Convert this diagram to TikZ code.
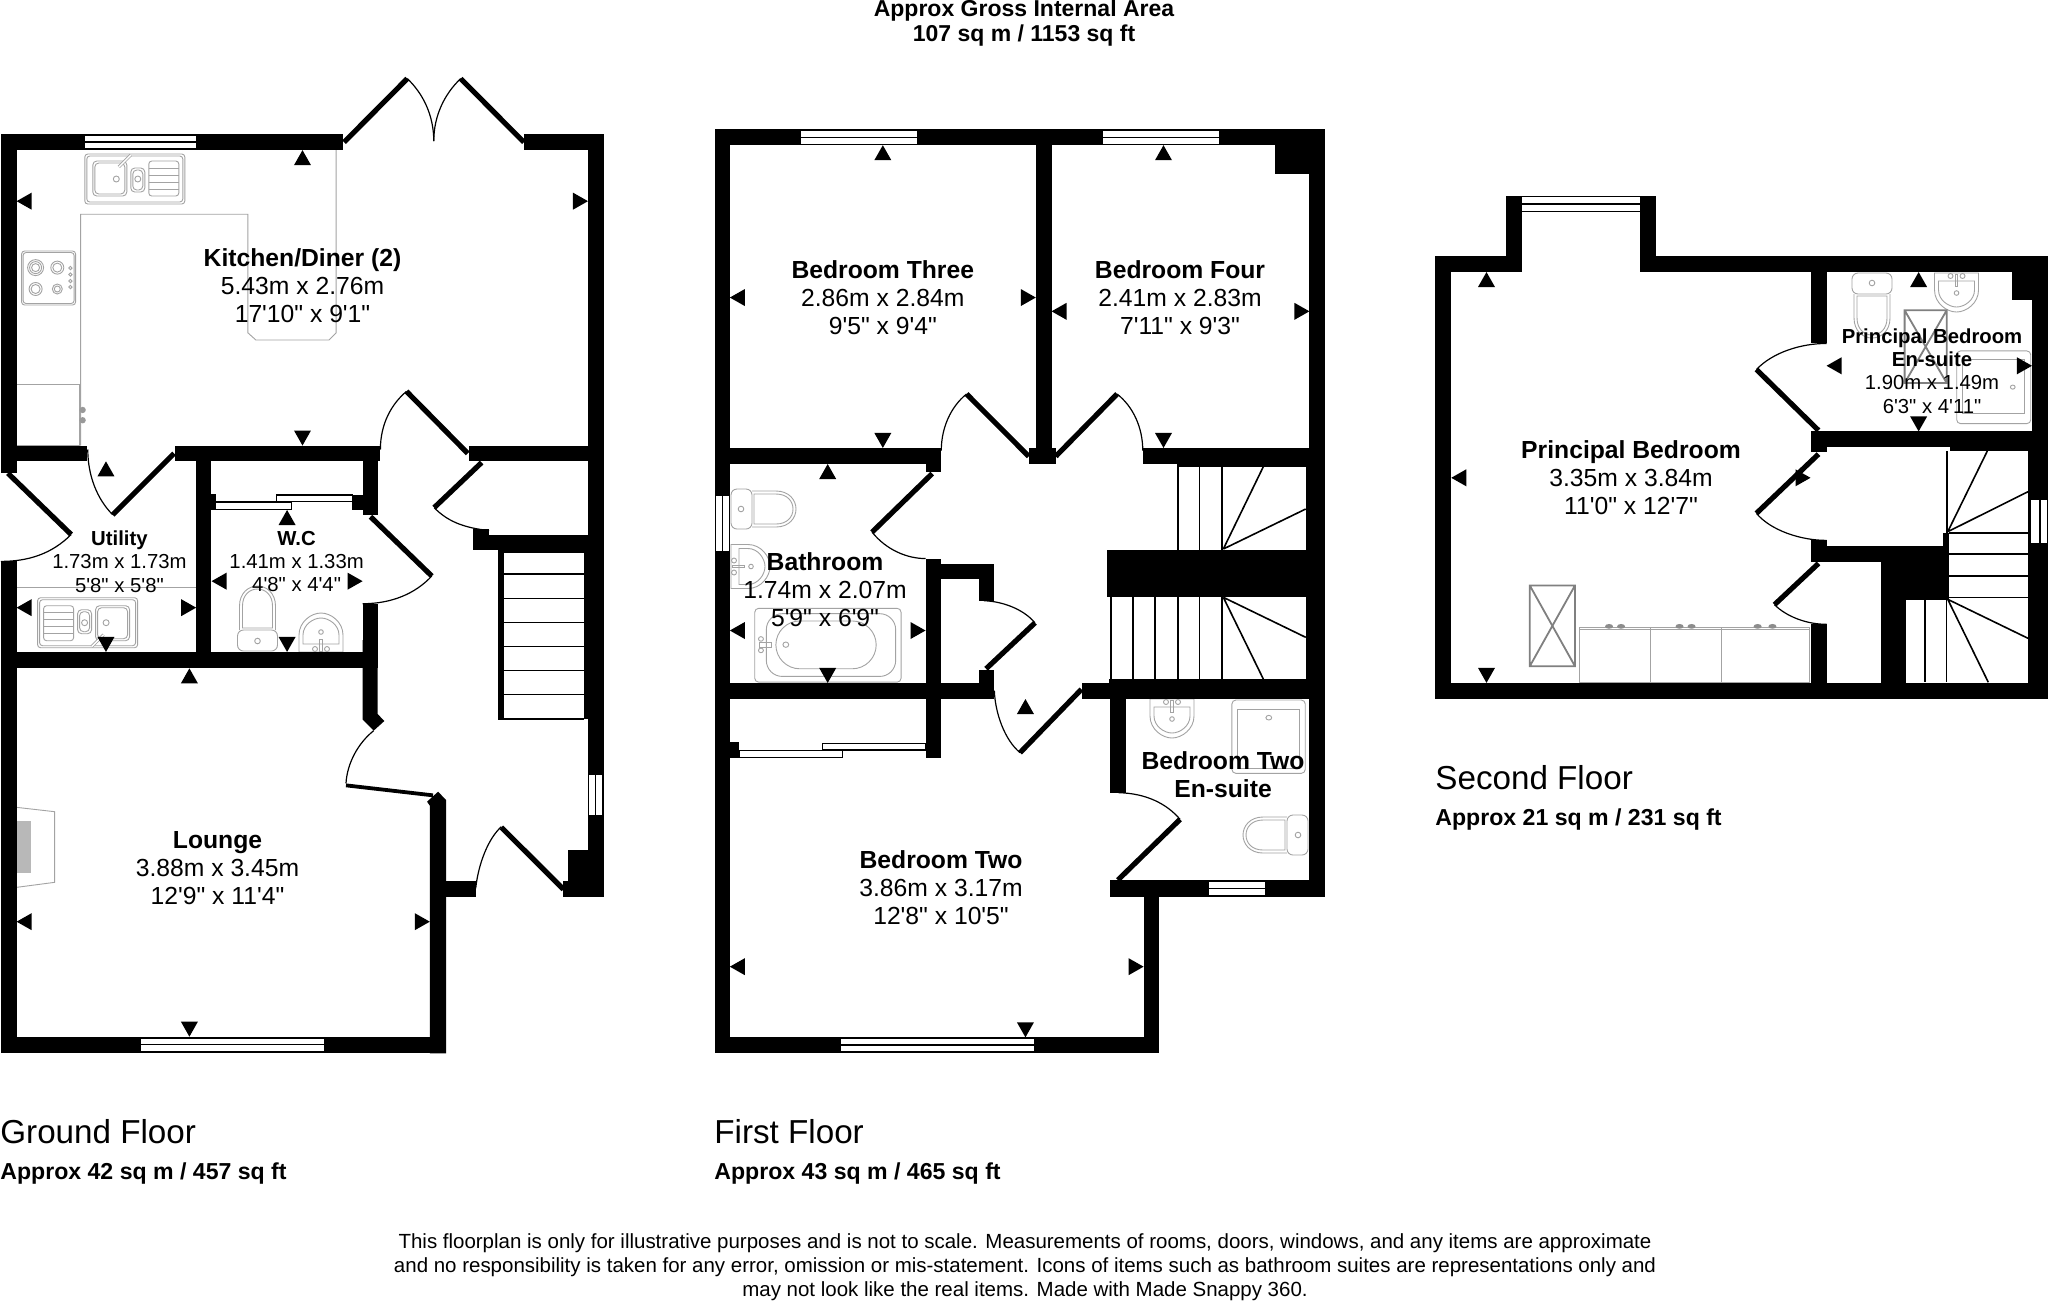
\documentclass[tikz,border=0pt]{standalone}
\usepackage{fontspec}
\newfontfamily\lib{Liberation Sans}
\newcommand\wl[4]{\fill[wall] (#1,#2) rectangle (#3,#4);}
\newcommand\wbar[4]{\fill[white] (#1,#2) rectangle (#3,#4);}
\newcommand\TU[2]{\fill (#1,#2) -- ++({-8.5*\zx},{15*\zy}) -- ++({17*\zx},0) -- cycle;}
\newcommand\TD[2]{\fill (#1,#2) -- ++({-8.5*\zx},{-15*\zy}) -- ++({17*\zx},0) -- cycle;}
\newcommand\TL[2]{\fill (#1,#2) -- ++({15*\zx},{-8.5*\zy}) -- ++(0,{17*\zy}) -- cycle;}
\newcommand\TR[2]{\fill (#1,#2) -- ++({-15*\zx},{-8.5*\zy}) -- ++(0,{17*\zy}) -- cycle;}
\tikzset{
  wall/.style={fill=black,draw=none},
  leaf/.style={line width=2.6pt,black},
  thinleaf/.style={line width=1.9pt,black},
  swing/.style={line width=0.6pt,black},
  tread/.style={line width=0.8pt,black},
  fx/.style={draw=black!36,line width=0.45pt},
  fxd/.style={draw=black!50,line width=0.9pt},
  room/.style={align=center,inner sep=0pt,font=\lib\fontsize{12.35}{14}\selectfont},
  smallroom/.style={align=center,inner sep=0pt,font=\lib\fontsize{10.15}{11.7}\selectfont},
  floorname/.style={anchor=base west,inner sep=0pt,font=\lib\fontsize{16.6}{20}\selectfont},
  floorarea/.style={anchor=base west,inner sep=0pt,font=\lib\fontsize{11.55}{14}\selectfont\bfseries},
  sinkp/.pic={
    \draw[fx,rounded corners=1.5pt] (-50,-25) rectangle (50,25);
    \draw[fx,rounded corners=1.5pt] (-48,-23) rectangle (48,23);
    \draw[fx,rounded corners=2pt] (-42,-18) rectangle (-8,17);
    \draw[fx,rounded corners=2pt] (-40,-16) rectangle (-10,15);
    \draw[fx,rounded corners=2pt] (-4,-11) rectangle (10,13);
    \draw[fx,rounded corners=2pt] (-2,-9) rectangle (8,11);
    \draw[fx,rounded corners=1.5pt] (14,-18) rectangle (44,17);
    \draw[fx] (14,-11) -- (44,-11) (14,-4) -- (44,-4) (14,3) -- (44,3) (14,10) -- (44,10);
    \draw[draw=black!36,line width=1.5pt] (-16,-12) -- (-4,-24);
    \draw[white,line width=0.7pt] (-16,-12) -- (-4,-24);
    \draw[fx] (-18.5,0) circle (3) (3,0) circle (3);
  },
  hobp/.pic={
    \draw[fx,rounded corners=1.5pt] (-27,-27) rectangle (27,27);
    \draw[fx,rounded corners=1.5pt] (-25.5,-25.5) rectangle (25.5,25.5);
    \draw[fx] (-13,-10.4) circle (8) circle (6) circle (4);
    \draw[fx] (8.7,-10.4) circle (6.5) circle (4.5);
    \draw[fx] (-13,11) circle (6.5) circle (4.5);
    \draw[fx] (8.7,11) circle (5) circle (3);
    \draw[fx] (21.8,-10) circle (1.7) (21.8,-3.5) circle (1.7) (21.8,3) circle (1.7) (21.8,9) circle (1.7);
  },
  toiletp/.pic={
    \draw[fx,rounded corners=3pt] (-20,-21) rectangle (20,0);
    \draw[fx] (0,-10) circle (2.8);
    \draw[fx] (-18,-21) -- (-18,-45) .. controls (-18,-58) and (-9,-65) .. (0,-65) .. controls (9,-65) and (18,-58) .. (18,-45) -- (18,-21);
    \draw[fx] (-15,-23) -- (-15,-45) .. controls (-15,-56) and (-8,-62) .. (0,-62) .. controls (8,-62) and (15,-56) .. (15,-45) -- (15,-23) -- cycle;
  },
  basinp/.pic={
    \draw[fx] (-22,0) -- (-22,-17) .. controls (-22,-30) and (-10,-39) .. (0,-39) .. controls (10,-39) and (22,-30) .. (22,-17) -- (22,0) -- cycle;
    \draw[fx] (-18,-8) -- (-18,-17) .. controls (-18,-27) and (-8,-34) .. (0,-34) .. controls (8,-34) and (18,-27) .. (18,-17) -- (18,-8) -- cycle;
    \draw[fx] (-1.2,-1) rectangle (1.2,-13);
    \draw[fx] (-6,-3) circle (2.5) (6,-3) circle (2.5) (0,-20) circle (2.3);
  }
}
\begin{document}
\begin{tikzpicture}[x=0.5pt,y=-0.5pt]
\useasboundingbox (0,0) rectangle (2048,1303);
\fill[white] (0,0) rectangle (2048,1303);

% ---------- fixtures placed in full pixels ----------
\pic at (134.8,179) {sinkp};
\pic[rotate=180] at (87.6,622.7) {sinkp};
\pic at (48.6,278) {hobp};
\pic at (257.5,651) {toiletp};
\pic at (321,652) {basinp};
\pic[rotate=-90] at (731,509) {toiletp};
\pic[rotate=-90] at (731,566.5) {basinp};
\pic[rotate=90] at (1308,835) {toiletp};
\pic[rotate=180] at (1172,699) {basinp};
\pic[rotate=180] at (1872,273) {toiletp};
\pic[rotate=180] at (1956.5,273) {basinp};

% ---------- ground floor, upper part ----------
\def\zx{2.529}\def\zy{2.529}
\begin{scope}[shift={(0,60)},xscale=1/\zx,yscale=1/\zy]
  \draw[fx] (204,975) -- (204,390) -- (627,390) -- (627,690) -- (647,708) -- (832,708) -- (850,690) -- (850,228);
  \draw[fx] (42,820) rectangle (200,975);
  \fill[black!40] (209,885) circle (8) (209,911) circle (8);
  \draw[fx] (42,1335) -- (496,1335);
  \wl{2}{188}{868}{228}
  \wbar{214}{191}{496}{205} \wbar{214}{209}{496}{223}
  \wl{1325}{188}{1527}{228}
  \wl{1487}{188}{1527}{1568}
  \wl{2}{188}{42}{1045}
  \wl{2}{1268}{42}{1568}
  \wl{2}{975}{220}{1015}
  \wl{442}{975}{962}{1015}
  \wl{1185}{975}{1527}{1015}
  \wl{496}{1015}{534}{1497}
  \wl{917}{1015}{955}{1150}
  \wl{890}{1100}{917}{1138}
  \wl{534}{1098}{546}{1138}
  \wl{917}{1375}{955}{1538}
  \wl{2}{1497}{955}{1538}
  \wl{1197}{1185}{1237}{1240}
  \wl{1197}{1200}{1527}{1240}
  \draw[fill=white,line width=0.6pt] (545,1118) rectangle (738,1136);
  \draw[fill=white,line width=0.6pt] (700,1100) rectangle (892,1117);
  \draw[leaf] (870,208) -- (1030,47);
  \draw[leaf] (1325,208) -- (1165,47);
  \draw[swing] (1030,47) .. controls (1070,85) and (1097,140) .. (1097,205);
  \draw[swing] (1165,47) .. controls (1125,85) and (1097,140) .. (1097,205);
  \draw[leaf] (20,1045) -- (180,1200);
  \draw[swing] (180,1200) .. controls (130,1250) and (70,1268) .. (2,1268);
  \draw[leaf] (285,1150) -- (440,995);
  \draw[swing] (285,1150) .. controls (245,1110) and (222,1050) .. (222,985);
  \draw[leaf] (937,1155) -- (1092,1305);
  \draw[swing] (1092,1305) .. controls (1050,1350) and (990,1375) .. (917,1375);
  \draw[leaf] (1183,995) -- (1028,838);
  \draw[swing] (1028,838) .. controls (990,870) and (962,920) .. (962,985);
  \draw[leaf] (1218,1018) -- (1098,1132);
  \draw[swing] (1098,1132) .. controls (1130,1165) and (1170,1183) .. (1237,1190);
  \TU{765}{228} \TL{42}{357} \TR{1487}{357} \TD{765}{975}
  \TU{268}{1015} \TU{726}{1138} \TL{535}{1318} \TR{917}{1318}
  \TL{42}{1385} \TR{496}{1385} \TD{268}{1497} \TD{726}{1497}
\end{scope}

% ---------- ground floor, lower part ----------
\def\zx{2.529}\def\zy{3}
\begin{scope}[shift={(0,640)},xscale=1/\zx,yscale=1/\zy]
  \draw[fx] (42,502) -- (138,515) -- (138,727) -- (42,742);
  \fill[black!28] (42,543) rectangle (79,700);
  \wl{2}{0}{42}{1240}
  \wl{1487}{0}{1527}{770}
  \wbar{1490}{405}{1505}{525} \wbar{1508}{405}{1522}{525}
  \wl{1437}{630}{1527}{770}
  \wl{1425}{722}{1527}{770}
  \wl{2}{36}{955}{85}
  \fill[wall] (917,0) -- (955,0) -- (955,222) -- (972,243) -- (945,272) -- (917,238) -- cycle;
  \fill[wall] (1108,455) -- (1128,480) -- (1128,1240) -- (1087,1240) -- (1087,497) -- (1080,485) -- cycle;
  \wl{2}{1190}{1128}{1240}
  \wbar{356}{1196}{819}{1212} \wbar{356}{1216}{819}{1234}
  \wl{1128}{722}{1203}{770}
  \draw[swing] (945,272) .. controls (905,310) and (878,370) .. (875,430);
  \draw[thinleaf] (875,436) -- (1095,466);
  \draw[swing] (1203,745) .. controls (1210,670) and (1235,595) .. (1268,560);
  \draw[leaf] (1268,562) -- (1425,748);
  \TU{479}{85} \TL{42}{845} \TR{1087}{845} \TD{479}{1190}
\end{scope}

% ---------- ground floor stairs, full pixels ----------
\wl{498}{550}{604}{553}
\wl{584}{550}{604}{719}
\wl{498}{550}{504}{719}
\foreach \t in {574,598.3,622.3,646.3,670.3,694.3,719} \draw[tread] (498,\t) -- (584,\t);

% ---------- first floor, upper part ----------
\def\zx{2.412}\def\zy{2.613}
\begin{scope}[shift={(700,110)},xscale=1/\zx,yscale=1/\zy]
  \draw[fx,rounded corners=2pt] (132,1302) rectangle (485,1495);
  \draw[fx,rounded corners=8pt] (160,1316) rectangle (472,1480);
  \draw[fx,rounded corners=12pt] (183,1335) rectangle (425,1460);
  \draw[fx] (143,1390) rectangle (172,1404);
  \draw[fx] (147,1382) circle (6) (147,1412) circle (6) (207,1397) circle (7);
  \wl{35}{50}{1508}{92}
  \wbar{243}{55}{523}{70} \wbar{243}{74}{523}{88}
  \wbar{972}{55}{1253}{70} \wbar{972}{74}{1253}{88}
  \wl{35}{50}{72}{1568}
  \wbar{38}{1008}{53}{1152} \wbar{56}{1008}{70}{1152}
  \wl{1470}{50}{1508}{1568}
  \wl{1388}{92}{1470}{168}
  \wl{810}{50}{848}{925}
  \wl{793}{883}{858}{925}
  \wl{35}{883}{582}{925}
  \wl{544}{925}{582}{945}
  \wl{1068}{883}{1508}{925}
  \wl{544}{1172}{582}{1568}
  \wl{544}{1185}{708}{1225}
  \wl{672}{1225}{708}{1282}
  \wl{672}{1463}{708}{1540}
  \wl{35}{1497}{708}{1540}
  \wl{922}{1497}{1508}{1540}
  \draw[leaf] (793,905) -- (643,742);
  \draw[swing] (643,742) .. controls (605,775) and (582,830) .. (582,890);
  \draw[leaf] (858,905) -- (1006,742);
  \draw[swing] (1006,742) .. controls (1045,775) and (1068,830) .. (1068,890);
  \draw[leaf] (560,950) -- (415,1103);
  \draw[swing] (415,1103) .. controls (450,1150) and (500,1172) .. (544,1172);
  \draw[swing] (685,1282) .. controls (740,1285) and (785,1310) .. (808,1340);
  \draw[leaf] (808,1340) -- (690,1460);
  \TU{441}{92} \TU{1118}{92} \TL{72}{490} \TR{810}{490}
  \TL{848}{526} \TR{1470}{526} \TD{441}{883} \TD{1118}{883}
  \TU{308}{925} \TL{72}{1360} \TR{544}{1360} \TD{308}{1497}
\end{scope}

% ---------- first floor, lower part ----------
\def\zx{2.412}\def\zy{3}
\begin{scope}[shift={(700,650)},xscale=1/\zx,yscale=1/\zy]
  \draw[fx,rounded corners=2pt] (1283,150) rectangle (1460,370);
  \draw[fx] (1297,178) rectangle (1445,355);
  \draw[fx] (1372,203) circle (7);
  \wl{35}{0}{72}{1208}
  \wl{1470}{0}{1508}{740}
  \wl{35}{98}{708}{145}
  \wl{544}{0}{582}{325}
  \wl{672}{60}{708}{98}
  \wl{922}{98}{1508}{145}
  \wl{988}{145}{1027}{430}
  \wl{988}{690}{1508}{740}
  \wbar{1228}{697}{1362}{713} \wbar{1228}{717}{1362}{735}
  \wl{35}{1162}{1107}{1208}
  \wbar{340}{1168}{806}{1183} \wbar{340}{1188}{806}{1204}
  \wl{1070}{740}{1107}{1208}
  \wl{72}{277}{95}{323}
  \draw[fill=white,line width=0.6pt] (95,302) rectangle (343,322);
  \draw[fill=white,line width=0.6pt] (296,280) rectangle (544,300);
  \draw[leaf] (920,118) -- (772,308);
  \draw[swing] (772,308) .. controls (735,270) and (712,190) .. (710,122);
  \draw[swing] (1010,428) .. controls (1075,430) and (1125,460) .. (1158,508);
  \draw[leaf] (1158,508) -- (1008,690);
  \TU{785}{147} \TL{72}{950} \TR{1070}{950} \TD{785}{1162}
\end{scope}

% ---------- first floor stairs, full pixels ----------
\wl{1177}{460}{1325}{467}
\wl{1305.7}{460}{1325}{683}
\wl{1106.7}{550}{1325}{597}
\wl{1109}{679}{1325}{683}
\foreach \t in {1177.7,1199.3,1222} \draw[tread] (\t,467) -- (\t,550);
\foreach \t in {1110.7,1132.7,1155,1177.7,1199.3,1222} \draw[tread] (\t,597) -- (\t,679);
\draw[tread] (1223.3,549) -- (1263.3,466.7) (1223.3,549) -- (1305.7,509);
\draw[tread] (1223.3,597.3) -- (1305.7,637.3) (1223.3,597.3) -- (1263.3,679);

% ---------- second floor ----------
\def\zx{2.497}\def\zy{2.955}
\begin{scope}[shift={(1420,180)},xscale=1/\zx,yscale=1/\zy]
  \draw[fx,rounded corners=2pt] (1340,505) rectangle (1525,720);
  \draw[fx] (1355,530) rectangle (1510,690);
  \draw[fx] (1480,612) circle (6);
  \draw[fxd] (1210,385) rectangle (1315,600) (1210,385) -- (1315,600) (1315,385) -- (1210,600);
  \draw[fxd] (274,1198) rectangle (387,1437) (274,1198) -- (387,1437) (387,1198) -- (274,1437);
  \draw[fx] (398,1322) rectangle (575,1486) (575,1322) rectangle (752,1486) (752,1322) rectangle (973,1486);
  \draw[fx] (398,1328) -- (973,1328);
  \foreach \k in {472,502,648,678,843,880} \fill[black!45] (\k,1319) ellipse (10 and 7);
  \wl{215}{47}{255}{272}
  \wl{550}{47}{590}{272}
  \wl{255}{47}{550}{50} \wl{255}{68}{550}{73} \wl{255}{91}{550}{94}
  \wl{38}{225}{255}{272}
  \wl{550}{225}{1568}{272}
  \wl{38}{225}{78}{1533}
  \wl{38}{1486}{1568}{1533}
  \wl{1528}{225}{1568}{1533}
  \wl{1478}{272}{1528}{355}
  \wl{975}{272}{1015}{483}
  \wl{975}{743}{1568}{790}
  \wl{975}{790}{1015}{805}
  \wl{975}{1065}{1015}{1130}
  \wl{975}{1082}{1310}{1130}
  \wl{975}{1313}{1015}{1533}
  \draw[swing] (1015,483) .. controls (950,483) and (880,510) .. (840,560);
  \draw[leaf] (840,560) -- (995,740);
  \draw[leaf] (995,810) -- (840,985);
  \draw[swing] (840,985) .. controls (875,1035) and (950,1065) .. (1015,1065);
  \draw[leaf] (995,1133) -- (885,1255);
  \draw[swing] (885,1255) .. controls (915,1290) and (965,1313) .. (1015,1313);
  \TU{166}{272} \TD{166}{1486} \TL{78}{880} \TR{975}{880}
  \TU{1245}{272} \TD{1245}{743} \TL{1015}{549} \TR{1528}{549}
\end{scope}

% ---------- second floor stairs, full pixels ----------
\wl{1950}{446}{2048}{451}
\wl{2028}{446}{2048}{698}
\wbar{2031}{500}{2038.7}{542.7} \wbar{2040.7}{500}{2046.7}{542.7}
\wl{1943}{533}{1949}{546}
\wl{1881}{546}{1949}{600}
\wl{1881}{546}{1906}{698}
\draw[tread] (1946.7,451) -- (1946.7,533);
\foreach \t in {532.7,554,576,597.3} \draw[tread] (1949,\t) -- (2028,\t);
\foreach \t in {1924.7,1946.3} \draw[tread] (\t,600) -- (\t,682.3);
\draw[tread] (1947.7,531.7) -- (1987.3,451) (1947.7,531.7) -- (2028,491.7);
\draw[tread] (1947.7,599.3) -- (2028,638.3) (1947.7,599.3) -- (1988.3,682.3);

% ---------- room labels ----------
\node[room] (kit) at (302.5,285.4) {\textbf{Kitchen/Diner (2)}\\5.43m x 2.76m\\17'10" x 9'1"};
\node[smallroom] (uti) at (119.4,561.4) {\textbf{Utility}\\1.73m x 1.73m\\5'8" x 5'8"};
\node[smallroom] (wc) at (296.6,561.4) {\textbf{W.C}\\1.41m x 1.33m\\4'8" x 4'4"};
\node[room] (lou) at (217.5,867.7) {\textbf{Lounge}\\3.88m x 3.45m\\12'9" x 11'4"};
\node[room] (bd3) at (882.8,297.5) {\textbf{Bedroom Three}\\2.86m x 2.84m\\9'5" x 9'4"};
\node[room] (bd4) at (1180,297.5) {\textbf{Bedroom Four}\\2.41m x 2.83m\\7'11" x 9'3"};
\node[room] (bth) at (825,590) {\textbf{Bathroom}\\1.74m x 2.07m\\5'9" x 6'9"};
\node[room] (bd2) at (941,888) {\textbf{Bedroom Two}\\3.86m x 3.17m\\12'8" x 10'5"};
\node[room] (bd2e) at (1223,775) {\textbf{Bedroom Two}\\\textbf{En-suite}};
\node[room] (pri) at (1631,478) {\textbf{Principal Bedroom}\\3.35m x 3.84m\\11'0" x 12'7"};
\node[smallroom] (prie) at (1932,371) {\textbf{Principal Bedroom}\\\textbf{En-suite}\\1.90m x 1.49m\\6'3" x 4'11"};

% ---------- titles ----------
\node[align=center,inner sep=0pt,font=\lib\fontsize{11.5}{12.5}\selectfont\bfseries] (head) at (1024,23) {Approx Gross Internal Area\\107 sq m / 1153 sq ft};
\node[floorname] (f0) at (0,1143) {Ground Floor};
\node[floorarea] (a0) at (0,1179) {Approx 42 sq m / 457 sq ft};
\node[floorname] (f1) at (714,1143) {First Floor};
\node[floorarea] (a1) at (714,1179) {Approx 43 sq m / 465 sq ft};
\node[floorname] (f2) at (1435,789) {Second Floor};
\node[floorarea] (a2) at (1435,825) {Approx 21 sq m / 231 sq ft};
\node[align=center,inner sep=0pt,font=\lib\fontsize{10.24}{12.05}\selectfont] (foot) at (1025,1267) {This floorplan is only for illustrative purposes and is not to scale. Measurements of rooms, doors, windows, and any items are approximate\\and no responsibility is taken for any error, omission or mis-statement. Icons of items such as bathroom suites are representations only and\\may not look like the real items. Made with Made Snappy 360.};
\end{tikzpicture}
\end{document}
